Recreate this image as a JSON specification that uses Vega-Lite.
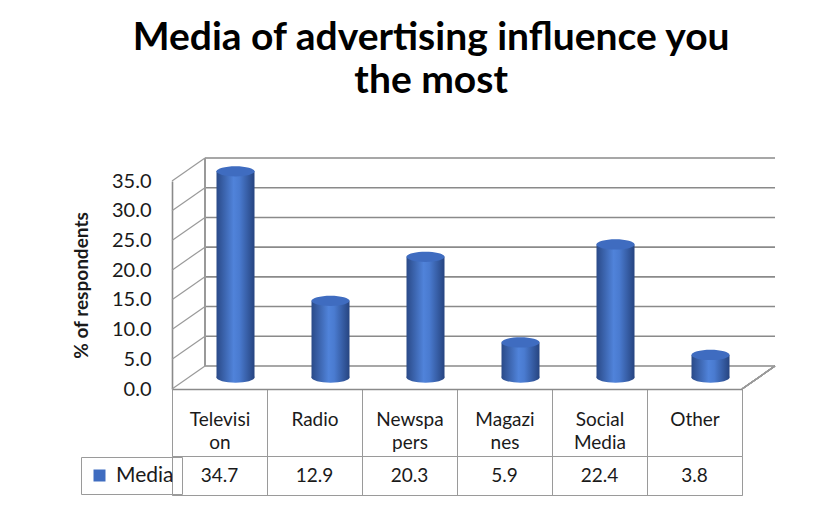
{
  "$schema": "https://vega.github.io/schema/vega-lite/v6.json",
  "padding": {"left": 72, "top": 19, "right": 0, "bottom": 0},
  "background": "white",
  "datasets": {
    "media": [
      {"category": "Television", "value": 34.7, "series": "Media"},
      {"category": "Radio", "value": 12.9, "series": "Media"},
      {"category": "Newspapers", "value": 20.3, "series": "Media"},
      {"category": "Magazines", "value": 5.9, "series": "Media"},
      {"category": "Social Media", "value": 22.4, "series": "Media"},
      {"category": "Other", "value": 3.8, "series": "Media"}
    ],
    "grid": [{"v": 0}, {"v": 5}, {"v": 10}, {"v": 15}, {"v": 20}, {"v": 25}, {"v": 30}, {"v": 35}]
  },
  "title": {
    "text": ["Media of advertising influence you", "the most"],
    "font": "Lato",
    "fontSize": 39,
    "fontWeight": "bold",
    "color": "#000000",
    "anchor": "middle",
    "lineHeight": 43,
    "offset": 56,
    "dx": 7
  },
  "config": {
    "font": "Lato",
    "axisY": {"labelOverlap": false, "labelFontWeight": "normal"},
    "legend": {
      "orient": "none",
      "legendX": -91,
      "legendY": 276,
      "strokeColor": "#9a9a9a",
      "padding": 8,
      "symbolType": "square",
      "symbolSize": 144,
      "symbolStrokeWidth": 0,
      "labelFontSize": 21,
      "labelFontWeight": "normal",
      "labelColor": "#1a1a1a",
      "labelOffset": 6,
      "title": null
    }
  },
  "spacing": 67,
  "bounds": "flush",
  "vconcat": [
    {
      "width": 570,
      "height": 208,
      "view": {"stroke": null},
      "resolve": {"axis": {"y": "shared"}},
      "layer": [
        {
          "data": {"name": "grid"},
          "mark": {"type": "rule", "color": "#8a8a8a", "strokeWidth": 1.6, "xOffset": 33, "x2Offset": 33, "yOffset": -23},
          "encoding": {
            "y": {"field": "v", "type": "quantitative", "title": "% of respondents", "axis": {"title": "% of respondents", "titleFontSize": 19, "titleFontWeight": "bold", "titleColor": "#1a1a1a", "titlePadding": 20, "values": [0, 5, 10, 15, 20, 25, 30, 35], "format": ".1f", "labelOverlap": false, "labelFontWeight": "normal", "grid": false, "ticks": false, "domain": true, "domainColor": "#8a8a8a", "domainWidth": 1.6, "labelFontSize": 20, "labelColor": "#1a1a1a", "labelPadding": 21}},
            "x": {"datum": "Television", "type": "nominal", "bandPosition": 0},
            "x2": {"datum": "Other", "bandPosition": 1}
          }
        },
        {
          "data": {"name": "grid"},
          "mark": {"type": "rule", "color": "#9a9a9a", "strokeWidth": 1.2, "x2Offset": 33, "y2Offset": -23},
          "encoding": {
            "y": {"field": "v", "type": "quantitative", "title": "% of respondents", "axis": {"title": "% of respondents", "titleFontSize": 19, "titleFontWeight": "bold", "titleColor": "#1a1a1a", "titlePadding": 20, "values": [0, 5, 10, 15, 20, 25, 30, 35], "format": ".1f", "labelOverlap": false, "labelFontWeight": "normal", "grid": false, "ticks": false, "domain": true, "domainColor": "#8a8a8a", "domainWidth": 1.6, "labelFontSize": 20, "labelColor": "#1a1a1a", "labelPadding": 21}},
            "y2": {"field": "v"},
            "x": {"datum": "Television", "type": "nominal", "bandPosition": 0},
            "x2": {"datum": "Television", "bandPosition": 0}
          }
        },
        {
          "data": {"name": "grid"},
          "mark": {"type": "rule", "color": "#9a9a9a", "strokeWidth": 1.2, "xOffset": 33, "yOffset": -23, "y2Offset": -23},
          "encoding": {
            "y": {"datum": 0, "type": "quantitative", "title": "% of respondents", "axis": {"title": "% of respondents", "titleFontSize": 19, "titleFontWeight": "bold", "titleColor": "#1a1a1a", "titlePadding": 20, "values": [0, 5, 10, 15, 20, 25, 30, 35], "format": ".1f", "labelOverlap": false, "labelFontWeight": "normal", "grid": false, "ticks": false, "domain": true, "domainColor": "#8a8a8a", "domainWidth": 1.6, "labelFontSize": 20, "labelColor": "#1a1a1a", "labelPadding": 21}},
            "y2": {"datum": 35},
            "x": {"datum": "Television", "type": "nominal", "bandPosition": 0}
          }
        },
        {
          "data": {"name": "grid"},
          "mark": {"type": "rule", "color": "#9a9a9a", "strokeWidth": 1.2, "x2Offset": 33, "y2Offset": -23},
          "encoding": {
            "y": {"datum": 0, "type": "quantitative", "title": "% of respondents", "axis": {"title": "% of respondents", "titleFontSize": 19, "titleFontWeight": "bold", "titleColor": "#1a1a1a", "titlePadding": 20, "values": [0, 5, 10, 15, 20, 25, 30, 35], "format": ".1f", "labelOverlap": false, "labelFontWeight": "normal", "grid": false, "ticks": false, "domain": true, "domainColor": "#8a8a8a", "domainWidth": 1.6, "labelFontSize": 20, "labelColor": "#1a1a1a", "labelPadding": 21}},
            "y2": {"datum": 0},
            "x": {"datum": "Other", "type": "nominal", "bandPosition": 1},
            "x2": {"datum": "Other", "bandPosition": 1}
          }
        },
        {
          "data": {"name": "media"},
          "mark": {
            "type": "point",
            "shape": "M-1,0A1,0.27,0,1,0,1,0A1,0.27,0,1,0,-1,0Z",
            "size": 1444,
            "filled": true,
            "opacity": 1,
            "strokeWidth": 0,
            "xOffset": 16,
            "yOffset": -11.5,
            "fill": {"gradient": "linear", "x1": 0, "y1": 0, "x2": 1, "y2": 0, "stops": [{"offset": 0, "color": "#2a4a88"}, {"offset": 0.45, "color": "#5083da"}, {"offset": 0.6, "color": "#4a7bd0"}, {"offset": 1, "color": "#264480"}]}
          },
          "encoding": {
            "x": {"field": "category", "type": "nominal", "sort": null},
            "y": {"datum": 0, "type": "quantitative", "title": "% of respondents", "axis": {"title": "% of respondents", "titleFontSize": 19, "titleFontWeight": "bold", "titleColor": "#1a1a1a", "titlePadding": 20, "values": [0, 5, 10, 15, 20, 25, 30, 35], "format": ".1f", "labelOverlap": false, "labelFontWeight": "normal", "grid": false, "ticks": false, "domain": true, "domainColor": "#8a8a8a", "domainWidth": 1.6, "labelFontSize": 20, "labelColor": "#1a1a1a", "labelPadding": 21}}
          }
        },
        {
          "data": {"name": "media"},
          "mark": {
            "type": "bar",
            "width": {"band": 0.4},
            "xOffset": 16,
            "yOffset": -11.5,
            "y2Offset": -11.5,
            "fill": {"gradient": "linear", "x1": 0, "y1": 0, "x2": 1, "y2": 0, "stops": [{"offset": 0, "color": "#2a4a88"}, {"offset": 0.45, "color": "#5083da"}, {"offset": 0.6, "color": "#4a7bd0"}, {"offset": 1, "color": "#264480"}]}
          },
          "encoding": {
            "x": {
              "field": "category",
              "type": "nominal",
              "sort": null,
              "scale": {"domain": ["Television", "Radio", "Newspapers", "Magazines", "Social Media", "Other"], "paddingInner": 0, "paddingOuter": 0},
              "axis": {
                "title": null,
                "domain": true,
                "domainColor": "#8a8a8a",
                "domainWidth": 1.6,
                "ticks": true,
                "tickBand": "extent",
                "tickSize": 67,
                "tickColor": "#9a9a9a",
                "tickWidth": 1,
                "labelAngle": 0,
                "labelAlign": "center",
                "labelFontSize": 19,
                "labelFontWeight": "normal",
                "labelColor": "#1a1a1a",
                "labelBaseline": "top",
                "labelPadding": -46,
                "labelLineHeight": 23,
                "labelExpr": "{'Television': ['Televisi', 'on'], 'Radio': 'Radio', 'Newspapers': ['Newspa', 'pers'], 'Magazines': ['Magazi', 'nes'], 'Social Media': ['Social', 'Media'], 'Other': 'Other'}[datum.value]"
              }
            },
            "y": {
              "field": "value",
              "type": "quantitative",
              "title": "% of respondents",
              "scale": {"domain": [0, 35], "nice": false, "zero": true},
              "axis": {"title": "% of respondents", "titleFontSize": 19, "titleFontWeight": "bold", "titleColor": "#1a1a1a", "titlePadding": 20, "values": [0, 5, 10, 15, 20, 25, 30, 35], "format": ".1f", "labelOverlap": false, "labelFontWeight": "normal", "grid": false, "ticks": false, "domain": true, "domainColor": "#8a8a8a", "domainWidth": 1.6, "labelFontSize": 20, "labelColor": "#1a1a1a", "labelPadding": 21}
            }
          }
        },
        {
          "data": {"name": "media"},
          "mark": {
            "type": "point",
            "shape": "M-1,0A1,0.27,0,1,0,1,0A1,0.27,0,1,0,-1,0Z",
            "size": 1444,
            "filled": true,
            "opacity": 1,
            "strokeWidth": 0,
            "xOffset": 16,
            "yOffset": -11.5
          },
          "encoding": {
            "x": {"field": "category", "type": "nominal", "sort": null},
            "y": {"field": "value", "type": "quantitative", "title": "% of respondents", "axis": {"title": "% of respondents", "titleFontSize": 19, "titleFontWeight": "bold", "titleColor": "#1a1a1a", "titlePadding": 20, "values": [0, 5, 10, 15, 20, 25, 30, 35], "format": ".1f", "labelOverlap": false, "labelFontWeight": "normal", "grid": false, "ticks": false, "domain": true, "domainColor": "#8a8a8a", "domainWidth": 1.6, "labelFontSize": 20, "labelColor": "#1a1a1a", "labelPadding": 21}},
            "fill": {"field": "series", "type": "nominal", "scale": {"range": ["#3f6cc0"]}, "legend": {}}
          }
        }
      ]
    },
    {
      "width": 570,
      "height": 39,
      "view": {"stroke": "#9a9a9a", "strokeWidth": 1},
      "data": {"name": "media"},
      "mark": {"type": "text", "fontSize": 19, "color": "#1a1a1a", "font": "Lato"},
      "encoding": {
        "x": {
          "field": "category",
          "type": "nominal",
          "sort": null,
          "scale": {"domain": ["Television", "Radio", "Newspapers", "Magazines", "Social Media", "Other"], "paddingInner": 0, "paddingOuter": 0},
          "axis": {"title": null, "labels": false, "ticks": false, "domain": false, "grid": true, "tickBand": "extent", "gridColor": "#9a9a9a", "gridWidth": 1, "gridOpacity": 1}
        },
        "text": {"field": "value", "type": "quantitative", "format": ".1f"}
      }
    }
  ]
}
